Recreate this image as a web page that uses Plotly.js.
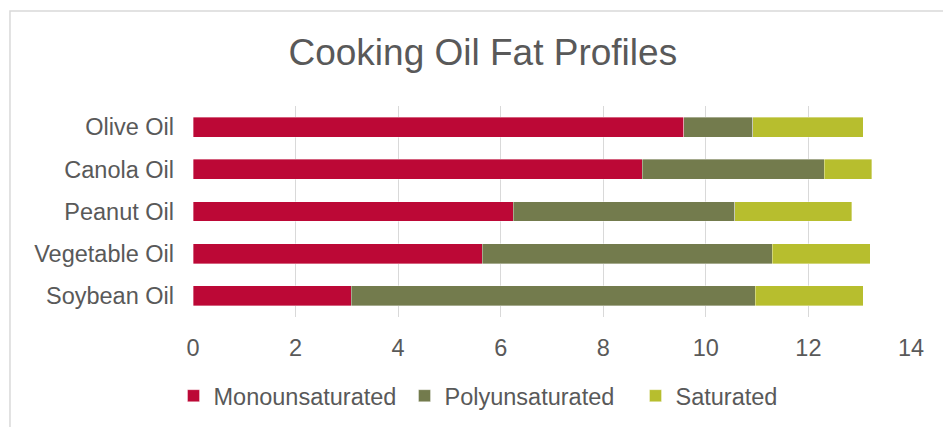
<!DOCTYPE html>
<html>
<head>
<meta charset="utf-8">
<script src="https://cdn.plot.ly/plotly-3.0.1.min.js"></script>
<style>html,body{margin:0;padding:0;background:#fff;}#chart{width:943px;height:427px;}</style>
</head>
<body>
<div id="chart"></div>
<script>
const oils = ["Soybean Oil", "Vegetable Oil", "Peanut Oil", "Canola Oil", "Olive Oil"];
const monounsaturated = [3.09, 5.64, 6.24, 8.76, 9.57];
const polyunsaturated = [7.87, 5.65, 4.32, 3.55, 1.34];
const saturated = [2.11, 1.92, 2.28, 0.92, 2.16];
const xTicks = [0, 2, 4, 6, 8, 10, 12, 14];

const FONT = "Liberation Sans, Arial, sans-serif";
const TXT = "#595959";
const edge = {color: "rgba(255,255,255,0.45)", width: 0.8};

const traces = [
  {name: "Monounsaturated", x: monounsaturated, y: oils, type: "bar", orientation: "h",
   marker: {color: "#BC0836", line: edge}},
  {name: "Polyunsaturated", x: polyunsaturated, y: oils, type: "bar", orientation: "h",
   marker: {color: "#737B4D", line: edge}},
  {name: "Saturated", x: saturated, y: oils, type: "bar", orientation: "h",
   marker: {color: "#B7BE2E", line: edge}}
];

const layout = {
  width: 943, height: 427,
  margin: {l: 193, r: 32, t: 106, b: 110, autoexpand: false},
  paper_bgcolor: "#fff", plot_bgcolor: "#fff",
  barmode: "stack", bargap: 0.53,
  font: {family: FONT, color: TXT, size: 23.5},
  title: {text: "Cooking Oil Fat Profiles", font: {family: FONT, size: 37, color: TXT},
          x: 0.512, xref: "container", xanchor: "center", y: 0.878, yref: "container", yanchor: "middle"},
  xaxis: {range: [0, 14], tickvals: xTicks, ticktext: xTicks.map(String), showgrid: true,
          gridcolor: "#D9D9D9", gridwidth: 1, zeroline: false, showline: false,
          ticks: "", ticklabelstandoff: 14, tickfont: {size: 23.5, color: TXT}, fixedrange: true,
          automargin: false},
  yaxis: {type: "category", categoryorder: "array", categoryarray: oils, showgrid: false,
          zeroline: false, showline: false, ticks: "", ticklabelstandoff: 18,
          tickfont: {size: 23.5, color: TXT}, automargin: false},
  showlegend: true,
  legend: {orientation: "h", x: 0.184, xref: "container", xanchor: "left",
           y: -0.374, yanchor: "middle", font: {size: 23.5, color: TXT}, traceorder: "normal",
           entrywidth: 186, entrywidthmode: "pixels", itemclick: false},
  shapes: [{type: "rect", xref: "paper", yref: "paper", x0: -0.2549, x1: 1.1, y0: -0.6, y1: 1.4502,
            line: {color: "#D9D9D9", width: 1.5}, fillcolor: "rgba(0,0,0,0)", layer: "below"}]
};

Plotly.newPlot("chart", traces, layout, {staticPlot: true, displayModeBar: false});
</script>
</body>
</html>
